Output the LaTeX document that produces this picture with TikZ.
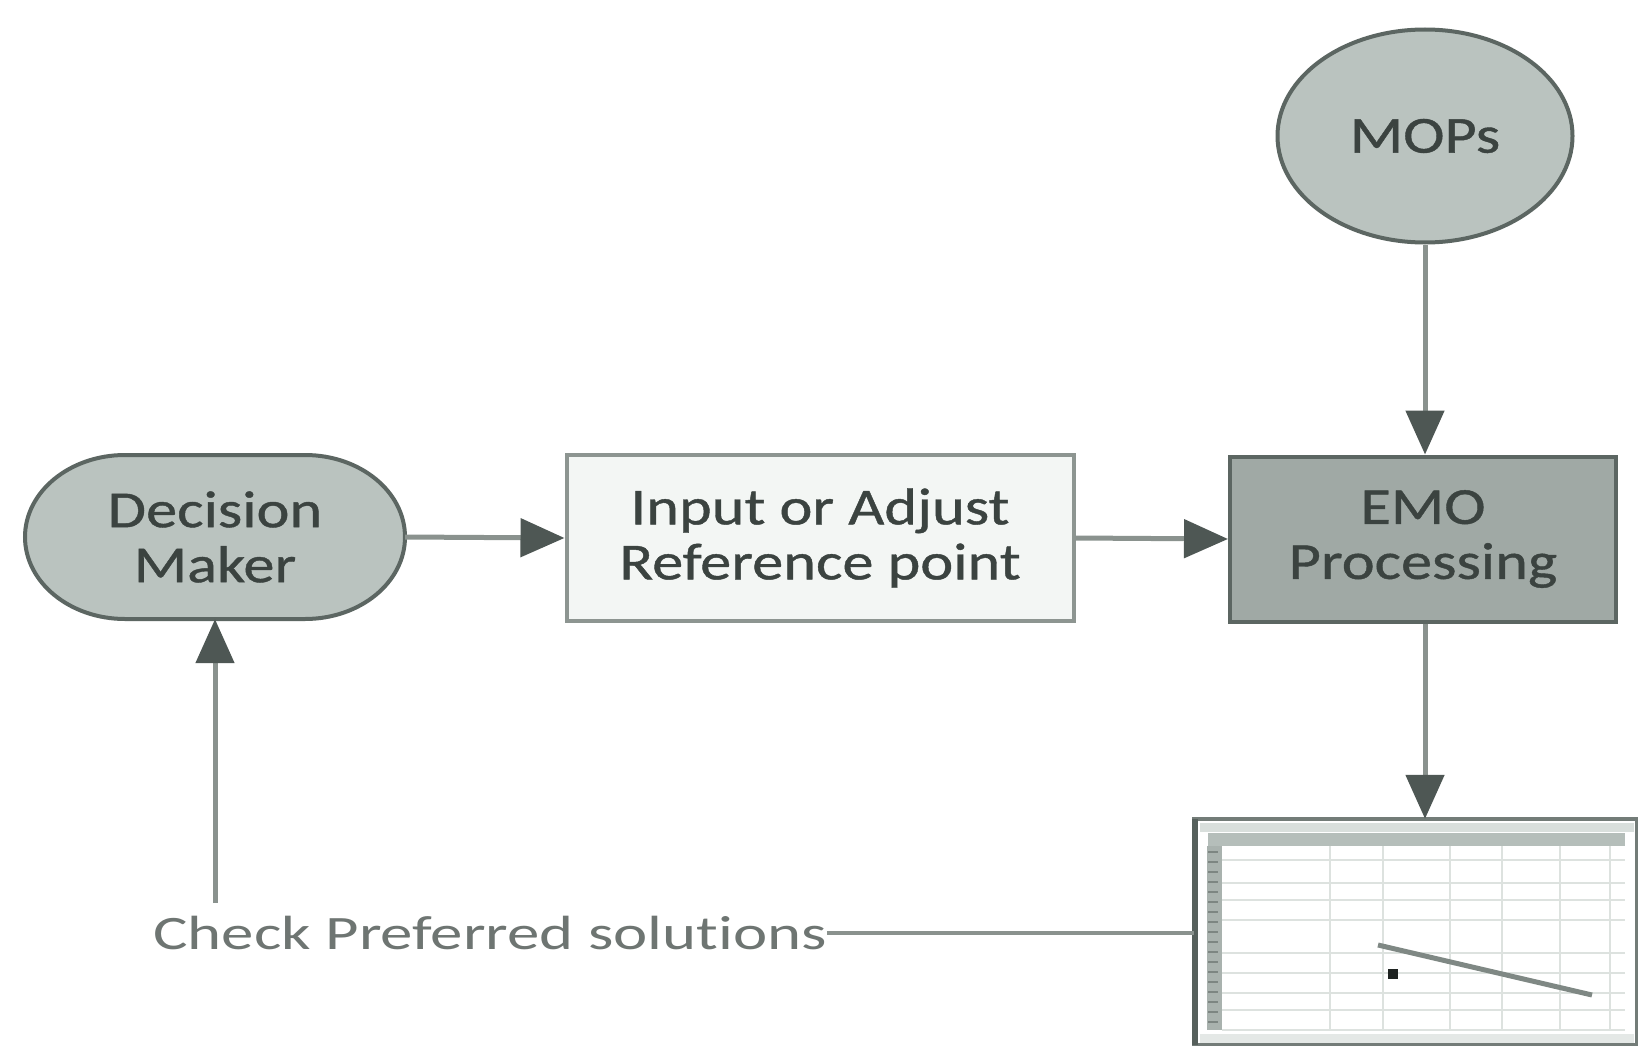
\documentclass[tikz,border=0pt]{standalone}
\usepackage{fontspec}
\setmainfont{Carlito}
\newfontfamily\boxfont[FakeStretch=1.2,FakeBold=0.8,Ligatures=NoCommon]{Carlito}
\newfontfamily\lblfont[FakeStretch=1.35,Ligatures=NoCommon]{Carlito}
\usetikzlibrary{shapes.geometric,arrows.meta}
\definecolor{bord}{HTML}{5C6662}
\definecolor{lightf}{HTML}{BAC3BF}
\definecolor{darkf}{HTML}{A0A9A5}
\definecolor{palef}{HTML}{F3F6F4}
\definecolor{paleb}{HTML}{8D9591}
\definecolor{linec}{HTML}{8A928E}
\definecolor{arrc}{HTML}{4E5754}
\definecolor{txt}{HTML}{3B4340}
\definecolor{lbl}{HTML}{6E7572}
\definecolor{gridc}{HTML}{DDE2DF}
\definecolor{stripa}{HTML}{D9DFDC}
\definecolor{stripb}{HTML}{B5BEBA}
\definecolor{stripc}{HTML}{E4E8E6}
\definecolor{colband}{HTML}{A9B2AE}
\definecolor{tickc}{HTML}{7D8682}
\definecolor{framec}{HTML}{737C78}
\definecolor{framel}{HTML}{56605C}
\definecolor{curvec}{HTML}{7F8884}
\definecolor{dotc}{HTML}{1E2321}
\tikzset{
  boxtext/.style={font=\boxfont\fontsize{52}{55}\selectfont, text=txt, align=center, inner sep=0pt},
  arr/.style={draw=linec, line width=5pt, -{Triangle[length=44pt,width=38pt,color=arrc,fill=arrc]}},
  conn/.style={draw=linec, line width=4pt},
}
\begin{document}
\begin{tikzpicture}[x=1pt,y=-1pt]
\useasboundingbox[fill=white] (0,0) rectangle (1638,1046);
% Decision maker stadium
\filldraw[draw=bord, fill=lightf, line width=4pt]
  (125,455) -- (305,455) arc[start angle=-90, end angle=90, x radius=100, y radius=82]
  -- (125,619) arc[start angle=90, end angle=270, x radius=100, y radius=82] -- cycle;
\node[boxtext, minimum width=380pt, minimum height=164pt] (dm) at (215,537) {Decision\\Maker};
% Input box
\node[boxtext, draw=paleb, fill=palef, line width=4pt, minimum width=507pt, minimum height=166pt] (inp) at (820,538) {Input or Adjust\\Reference point};
% EMO box
\node[boxtext, draw=bord, fill=darkf, line width=4pt, minimum width=386pt, minimum height=165pt] (emo) at (1423,539) {EMO\\Processing};
% MOPs ellipse
\node[ellipse, boxtext, draw=bord, fill=lightf, line width=4pt, minimum width=295pt, minimum height=213pt] (mops) at (1425,136) {MOPs};
% Plot
\node[minimum width=443pt, minimum height=226pt, inner sep=0pt] (plot) at (1415.5,932) {};
\fill[white] (1194,819) rectangle (1637,1045);
\fill[stripa] (1200,823) rectangle (1634,832);
\fill[stripb] (1208,833) rectangle (1625,846);
\fill[stripc] (1200,1034) rectangle (1634,1043);
\foreach \x in {1330,1383,1450,1502,1560,1610}
  \draw[gridc, line width=2pt] (\x,846) -- (\x,1030);
\foreach \y in {860,883,900,920,953,973,993,1010,1030}
  \draw[gridc, line width=2pt] (1222,\y) -- (1625,\y);
\fill[colband] (1207,846) rectangle (1222,1030);
\foreach \y in {852,862,872,882,892,902,912,922,932,942,952,962,972,982,992,1002,1012,1022}
  \draw[tickc, line width=2pt] (1208,\y) -- (1218,\y);
\draw[framec, line width=4pt] (1194,819) rectangle (1637,1045);
\draw[framel, line width=6pt] (1195,819) -- (1195,1045);
\draw[curvec, line width=5pt] (1378,945) -- (1592,995);
\fill[dotc] (1388,969) rectangle (1398,979);
% label
\node[anchor=west, font=\lblfont\fontsize{48}{50}\selectfont, text=lbl, inner sep=0pt] (check) at (153,933) {Check Preferred solutions};
\coordinate (up) at (215,903);
% connectors
\draw[arr] (dm.east) -- (inp.west);
\draw[arr] (inp.east) -- (emo.west);
\draw[arr] (mops.south) -- (mops.south |- emo.north);
\draw[arr] (emo.south -| mops.south) -- (mops.south |- plot.north);
\draw[arr] (up) -- (dm.south);
\draw[conn] (check.east) -- (check.east -| plot.west);
\end{tikzpicture}
\end{document}
